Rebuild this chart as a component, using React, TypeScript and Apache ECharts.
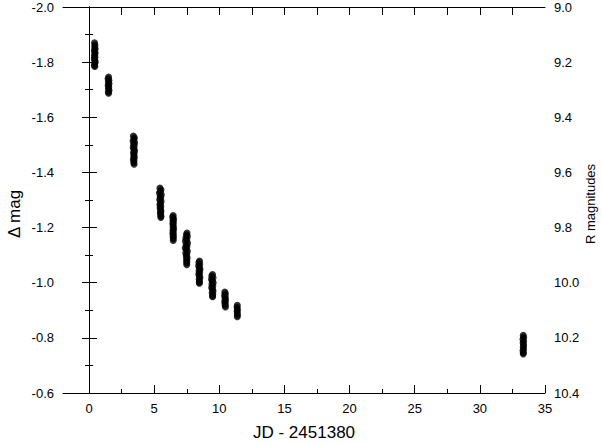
import React, { useEffect, useRef } from "react";
import * as echarts from "echarts";

// Nights (JD - 2451380) and measured differential magnitudes, one list per night
const night1: number[][] = [[0.42,-1.870],[0.45,-1.862],[0.43,-1.855],[0.47,-1.848],[0.41,-1.842],[0.44,-1.836],[0.46,-1.830],[0.42,-1.824],[0.45,-1.818],[0.40,-1.812],[0.44,-1.806],[0.47,-1.800],[0.43,-1.794],[0.41,-1.788],[0.44,-1.784]];
const night2: number[][] = [[1.50,-1.746],[1.46,-1.740],[1.52,-1.734],[1.48,-1.728],[1.53,-1.722],[1.47,-1.716],[1.51,-1.710],[1.49,-1.704],[1.53,-1.698],[1.48,-1.692],[1.50,-1.687]];
const night3: number[][] = [[3.40,-1.532],[3.48,-1.526],[3.44,-1.520],[3.38,-1.514],[3.50,-1.508],[3.42,-1.502],[3.47,-1.496],[3.39,-1.490],[3.45,-1.484],[3.50,-1.478],[3.41,-1.472],[3.46,-1.466],[3.43,-1.460],[3.48,-1.454],[3.40,-1.448],[3.45,-1.442],[3.43,-1.436],[3.46,-1.430]];
const night4: number[][] = [[5.44,-1.343],[5.52,-1.337],[5.48,-1.331],[5.40,-1.325],[5.55,-1.319],[5.46,-1.313],[5.50,-1.307],[5.42,-1.301],[5.53,-1.295],[5.47,-1.289],[5.44,-1.283],[5.51,-1.277],[5.45,-1.271],[5.49,-1.265],[5.52,-1.259],[5.47,-1.253],[5.50,-1.247],[5.52,-1.241],[5.51,-1.237]];
const night5: number[][] = [[6.46,-1.244],[6.42,-1.238],[6.49,-1.232],[6.44,-1.226],[6.48,-1.220],[6.43,-1.214],[6.47,-1.208],[6.45,-1.202],[6.49,-1.196],[6.44,-1.190],[6.47,-1.184],[6.43,-1.178],[6.48,-1.172],[6.45,-1.166],[6.47,-1.160],[6.46,-1.153]];
const night6: number[][] = [[7.52,-1.180],[7.47,-1.174],[7.55,-1.168],[7.43,-1.162],[7.50,-1.156],[7.40,-1.150],[7.56,-1.144],[7.45,-1.138],[7.52,-1.132],[7.38,-1.126],[7.48,-1.120],[7.55,-1.114],[7.42,-1.108],[7.50,-1.102],[7.46,-1.096],[7.53,-1.090],[7.48,-1.084],[7.51,-1.078],[7.49,-1.072],[7.50,-1.065]];
const night7: number[][] = [[8.48,-1.079],[8.43,-1.073],[8.50,-1.067],[8.41,-1.061],[8.47,-1.055],[8.52,-1.049],[8.44,-1.043],[8.49,-1.037],[8.42,-1.031],[8.47,-1.025],[8.51,-1.019],[8.45,-1.013],[8.48,-1.007],[8.46,-1.001],[8.47,-0.998]];
const night8: number[][] = [[9.48,-1.030],[9.42,-1.024],[9.52,-1.018],[9.40,-1.012],[9.47,-1.006],[9.53,-1.000],[9.43,-0.994],[9.50,-0.988],[9.41,-0.982],[9.48,-0.976],[9.52,-0.970],[9.45,-0.964],[9.50,-0.958],[9.47,-0.952],[9.49,-0.949]];
const night9: number[][] = [[10.42,-0.966],[10.47,-0.960],[10.40,-0.954],[10.46,-0.948],[10.43,-0.942],[10.48,-0.936],[10.41,-0.930],[10.46,-0.924],[10.44,-0.918],[10.47,-0.912]];
const night10: number[][] = [[11.38,-0.918],[11.36,-0.911],[11.39,-0.904],[11.37,-0.897],[11.38,-0.890],[11.39,-0.883],[11.38,-0.877]];
const night11: number[][] = [[33.33,-0.809],[33.36,-0.802],[33.31,-0.795],[33.35,-0.788],[33.32,-0.781],[33.36,-0.774],[33.33,-0.767],[33.35,-0.760],[33.31,-0.753],[33.34,-0.746],[33.33,-0.742]];

const xMajorTicks = [0, 5, 10, 15, 20, 25, 30, 35];
const xMinorTicks = [2.5, 7.5, 12.5, 17.5, 22.5, 27.5, 32.5];
const xTopTicks = [0, 2.5, 5, 7.5, 10, 12.5, 15, 17.5, 20, 22.5, 25, 27.5, 30, 32.5];

const FONT = "'Liberation Sans', Arial, Helvetica, sans-serif";

export default function App() {
  const ref = useRef<HTMLDivElement>(null);
  useEffect(() => {
    if (!ref.current) return;
    const chart = echarts.init(ref.current, null, { renderer: "svg" });
    const allPoints = [
      ...night1, ...night2, ...night3, ...night4, ...night5, ...night6,
      ...night7, ...night8, ...night9, ...night10, ...night11,
    ];
    const black = "#000";
    const lineStyle = { color: black, width: 1 };
    chart.setOption({
      animation: false,
      backgroundColor: "#fff",
      textStyle: { fontFamily: FONT },
      grid: { left: 63, right: 57, top: 7, bottom: 51, containLabel: false, outerBoundsMode: "none" },
      xAxis: [
        {
          type: "value", position: "bottom", min: -2, max: 35,
          axisLine: { show: true, lineStyle },
          axisTick: { show: true, inside: true, length: 8, lineStyle, customValues: xMajorTicks },
          axisLabel: { show: true, customValues: xMajorTicks, color: black, fontSize: 13, margin: 9, fontFamily: FONT },
          splitLine: { show: false },
          name: "JD - 2451380", nameLocation: "middle", nameGap: 31,
          nameTextStyle: { color: black, fontSize: 17, fontFamily: FONT },
        },
        {
          type: "value", position: "bottom", min: -2, max: 35,
          axisLine: { show: false },
          axisTick: { show: true, inside: true, length: 4, lineStyle, customValues: xMinorTicks },
          axisLabel: { show: false },
          splitLine: { show: false },
        },
        {
          type: "value", position: "top", min: -2, max: 35,
          axisLine: { show: true, lineStyle },
          axisTick: { show: true, inside: true, length: 8, lineStyle, customValues: xTopTicks },
          axisLabel: { show: false },
          splitLine: { show: false },
        },
      ],
      yAxis: [
        {
          type: "value", position: "left", min: -2, max: -0.6, interval: 0.2, inverse: true,
          axisLine: { show: true, lineStyle },
          axisTick: { show: true, inside: true, length: 8, lineStyle },
          minorTick: { show: true, splitNumber: 2, length: 4, lineStyle },
          axisLabel: { color: black, fontSize: 13, margin: 9, fontFamily: FONT, formatter: (v: number) => v.toFixed(1) },
          splitLine: { show: false },
          minorSplitLine: { show: false },
        },
        {
          type: "value", position: "right", min: 9, max: 10.4, interval: 0.2, inverse: true,
          axisLine: { show: true, lineStyle },
          axisTick: { show: true, inside: true, length: 7, lineStyle },
          minorTick: { show: true, splitNumber: 2, length: 4, lineStyle },
          axisLabel: { color: black, fontSize: 13, margin: 9, fontFamily: FONT, formatter: (v: number) => v.toFixed(1) },
          splitLine: { show: false },
          minorSplitLine: { show: false },
        },
      ],
      graphic: [
        {
          type: "text", x: 14, y: 214, rotation: Math.PI / 2,
          style: { text: "Δ mag", fill: black, fontSize: 17, fontFamily: FONT, align: "center", verticalAlign: "middle" },
        },
        {
          type: "text", x: 590, y: 204, rotation: Math.PI / 2,
          style: { text: "R magnitudes", fill: black, fontSize: 13, fontFamily: FONT, align: "center", verticalAlign: "middle" },
        },
      ],
      series: [
        {
          type: "scatter", xAxisIndex: 0, yAxisIndex: 0,
          data: allPoints, symbol: "circle", symbolSize: 7,
          itemStyle: { color: black },
        },
      ],
    });
    return () => chart.dispose();
  }, []);
  return (
    <div
      ref={ref}
      style={{ position: "fixed", left: 0, top: 0, width: 602, height: 444, background: "#fff" }}
    />
  );
}
